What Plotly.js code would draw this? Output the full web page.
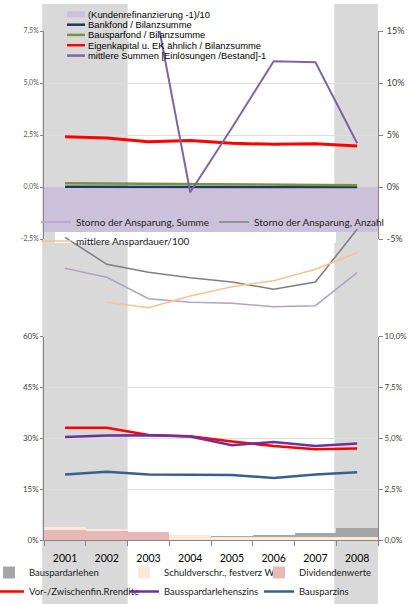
<!DOCTYPE html>
<html><head><meta charset="utf-8">
<script src="https://cdn.plot.ly/plotly-3.0.1.min.js"></script>
<style>html,body{margin:0;padding:0;background:#fff}#chart{width:412px;height:604px}</style>
</head><body><div id="chart"></div>
<script>
// ---------- data ----------
const years = ['2001','2002','2003','2004','2005','2006','2007','2008'];
// top panel, left axis (%)
const kundenRefi   = [-2.16,-2.16,-2.16,-2.16,-2.16,-2.16,-2.16,-2.16];
const bankfond     = [0.01,0.01,0.01,0.01,0.00,0.00,0.00,0.00];
const bausparfond  = [0.18,0.17,0.15,0.14,0.12,0.11,0.10,0.09];
const eigenkapital = [2.42,2.36,2.18,2.23,2.10,2.05,2.08,1.97];
// top panel, right axis (%)
const mittlereSummen = [null,null,20.6,-0.5,5.7,12.1,12.0,4.2];
// middle block (no visible axis)
const stornoSumme  = [7.17,6.27,4.13,3.77,3.67,3.33,3.43,6.73];
const stornoAnzahl = [10.27,7.57,6.77,6.23,5.80,5.07,5.80,11.07];
const anspardauer  = [null,3.77,3.23,4.40,5.33,5.93,7.07,8.73];
// bottom panel, stacked bars, left axis (%)
const dividendenwerte = [2.94,2.65,2.35,0,0,0,0,0];
const schuldverschr   = [0.98,0.68,0,1.57,0.98,0.95,0.92,0.88];
const bauspardarlehen = [0,0,0,0,0.30,0.60,1.10,2.65];
// bottom panel, lines, right axis (%)
const vorZwischen = [5.52,5.52,5.16,5.10,4.84,4.62,4.46,4.50];
const bausspardarlehenszins = [5.06,5.13,5.15,5.08,4.66,4.82,4.62,4.74];
const bausparzins = [3.22,3.35,3.22,3.19,3.19,3.05,3.22,3.33];
// tick labels
const topLeftTicks = [-2.5,0,2.5,5,7.5];
const topLeftLabels = ['-2,5%','0,0%','2,5%','5,0%','7,5%'];
const topRightTicks = [-5,0,5,10,15];
const topRightLabels = ['-5%','0%','5%','10%','15%'];
const botLeftTicks = [0,15,30,45,60];
const botLeftLabels = ['0%','15%','30%','45%','60%'];
const botRightTicks = [0,2.5,5,7.5,10];
const botRightLabels = ['0,0%','2,5%','5,0%','7,5%','10,0%'];
// highlighted periods
const shadedPeriods = [['2001','2002'],['2008','2008']];
// top legend names
const topNames = ['(Kundenrefinanzierung -1)/10','Bankfond / Bilanzsumme','Bausparfond / Bilanzsumme',
  'Eigenkapital u. EK ähnlich / Bilanzsumme','mittlere Summen [Einlösungen /Bestand]-1'];

// ---------- layout helpers ----------
const W = 412, H = 604;
const px = v => v / W;
const py = v => 1 - v / H;
const xDom = [px(44.2), px(378)];
const catX = (i) => xDom[0] + (i + 0.5) / years.length * (xDom[1] - xDom[0]);

const C = {
  refi:'#ccc1da', bank:'#1f3864', bauspf:'#77933c', ek:'#ff0000', mitt:'#8064a2',
  sSumme:'#b3a2c7', sAnz:'#7f7f7f', dauer:'#fac090',
  bdl:'#a6a6a6', sv:'#fde9d9', div:'#e6b9b8',
  vz:'#ff0000', bdz:'#7030a0', bz:'#376092', band:'#d9d9d9', axis:'#868686', grid:'#dedede'
};
const F = 'Lato, "Liberation Sans", sans-serif';

const traces = [
  {type:'bar', x:years, y:kundenRefi, name:topNames[0], xaxis:'x', yaxis:'y', marker:{color:C.refi}, showlegend:false},
  {type:'scatter', mode:'lines', x:years, y:bankfond, name:topNames[1], xaxis:'x', yaxis:'y', line:{color:C.bank, width:2.5}, showlegend:false},
  {type:'scatter', mode:'lines', x:years, y:bausparfond, name:topNames[2], xaxis:'x', yaxis:'y', line:{color:C.bauspf, width:2.5}, showlegend:false},
  {type:'scatter', mode:'lines', x:years, y:eigenkapital, name:topNames[3], xaxis:'x', yaxis:'y', line:{color:C.ek, width:3}, showlegend:false},
  {type:'scatter', mode:'lines', x:years, y:mittlereSummen, name:topNames[4], xaxis:'x', yaxis:'y2', line:{color:C.mitt, width:2}, showlegend:false},

  {type:'scatter', mode:'lines', x:years, y:stornoSumme, name:'Storno der Ansparung, Summe', xaxis:'x', yaxis:'y3', line:{color:C.sSumme, width:1.5}, legend:'legend2'},
  {type:'scatter', mode:'lines', x:years, y:stornoAnzahl, name:'Storno der Ansparung, Anzahl', xaxis:'x', yaxis:'y3', line:{color:C.sAnz, width:1.5}, legend:'legend2'},
  {type:'scatter', mode:'lines', x:years, y:anspardauer, name:'mittlere Anspardauer/100', xaxis:'x', yaxis:'y3', line:{color:C.dauer, width:1.5}, legend:'legend2'},

  {type:'bar', x:years, y:dividendenwerte, name:'Dividendenwerte', xaxis:'x2', yaxis:'y4', marker:{color:C.div}, legend:'legend3', legendrank:3},
  {type:'bar', x:years, y:schuldverschr, name:'Schuldverschr., festverz WP', xaxis:'x2', yaxis:'y4', marker:{color:C.sv}, legend:'legend3', legendrank:2},
  {type:'bar', x:years, y:bauspardarlehen, name:'Bauspardarlehen', xaxis:'x2', yaxis:'y4', marker:{color:C.bdl}, legend:'legend3', legendrank:1},
  {type:'scatter', mode:'lines', x:years, y:vorZwischen, name:'Vor-/Zwischenfin.Rrendite', xaxis:'x2', yaxis:'y5', line:{color:C.vz, width:2.5}, legend:'legend3', legendrank:4},
  {type:'scatter', mode:'lines', x:years, y:bausspardarlehenszins, name:'Bausspardarlehenszins', xaxis:'x2', yaxis:'y5', line:{color:C.bdz, width:2.5}, legend:'legend3', legendrank:5},
  {type:'scatter', mode:'lines', x:years, y:bausparzins, name:'Bausparzins', xaxis:'x2', yaxis:'y5', line:{color:C.bz, width:2.5}, legend:'legend3', legendrank:6}
];

// ---------- shapes ----------
const shapes = [];
shadedPeriods.forEach(p => {
  const a = years.indexOf(p[0]), b = years.indexOf(p[1]);
  const step = (xDom[1]-xDom[0]) / years.length;
  shapes.push({type:'rect', xref:'paper', yref:'paper', layer:'below',
    x0: catX(a) - step/2 - px(2), x1: catX(b) + step/2, y0: 0, y1: py(4),
    fillcolor:C.band, line:{width:0}});
});
shapes.push({type:'rect', xref:'paper', yref:'paper', layer:'below',
  x0:px(55), x1:px(336), y0:py(243), y1:py(232), fillcolor:'#ffffff', line:{width:0}});

// top legend (manual, compact spacing)
const topLegendY = [14.3, 24.7, 34.9, 45.2, 55.6];
const topColors = [C.refi, C.bank, C.bauspf, C.ek, C.mitt];
const annotations = [];
topNames.forEach((n, i) => {
  annotations.push({xref:'paper', yref:'paper', x:px(85.5), y:py(topLegendY[i]), xanchor:'left', yanchor:'middle',
    text:n, showarrow:false, font:{family:'"Liberation Sans", Arial, sans-serif', size:9.4, color:'#000'}});
  if (i === 0) {
    shapes.push({type:'rect', xref:'paper', yref:'paper', layer:'above', x0:px(67), x1:px(85),
      y0:py(topLegendY[i]+3), y1:py(topLegendY[i]-3), fillcolor:topColors[i], line:{width:0}});
  } else {
    shapes.push({type:'line', xref:'paper', yref:'paper', layer:'above', x0:px(67), x1:px(85),
      y0:py(topLegendY[i]), y1:py(topLegendY[i]), line:{color:topColors[i], width:2.5}});
  }
});

const axisCommon = {showline:true, linecolor:C.axis, linewidth:1, ticks:'outside', tickcolor:C.axis, fixedrange:true};

const layout = {
  width:W, height:H, margin:{l:0, r:0, t:0, b:0, autoexpand:false},
  paper_bgcolor:'#ffffff', plot_bgcolor:'rgba(0,0,0,0)',
  barmode:'stack', bargap:0,
  font:{family:F, color:'#000'},
  xaxis:{domain:xDom, anchor:'y', type:'category', range:[-0.5,7.5], showticklabels:false, ticks:'',
    showline:false, showgrid:false, zeroline:false, fixedrange:true},
  xaxis2:Object.assign({}, axisCommon, {domain:xDom, anchor:'y4', type:'category', range:[-0.5,7.5],
    tickson:'boundaries', ticklen:5, ticklabelstandoff:8, showgrid:false, zeroline:false,
    tickfont:{family:F, size:10.5, color:'#000'}}),
  yaxis:Object.assign({}, axisCommon, {domain:[py(239), py(31)], anchor:'x', range:[-2.5,7.5],
    tickvals:topLeftTicks, ticktext:topLeftLabels, ticklen:3, showgrid:true, gridcolor:C.grid,
    zeroline:true, zerolinecolor:C.axis, zerolinewidth:1,
    tickfont:{family:F, size:7, color:'#595959'}}),
  yaxis2:Object.assign({}, axisCommon, {overlaying:'y', side:'right', anchor:'x', range:[-5,15],
    tickvals:topRightTicks, ticktext:topRightLabels, ticklen:4, ticklabelstandoff:2, showgrid:false, zeroline:false,
    tickfont:{family:F, size:9, color:'#404040'}}),
  yaxis3:{domain:[py(340), py(220)], anchor:'x', range:[0,12], visible:false, fixedrange:true},
  yaxis4:Object.assign({}, axisCommon, {domain:[py(540), py(336.5)], anchor:'x2', range:[0,60],
    tickvals:botLeftTicks, ticktext:botLeftLabels, ticklen:3, showgrid:true, gridcolor:C.grid, zeroline:false,
    tickfont:{family:F, size:8, color:'#404040'}}),
  yaxis5:Object.assign({}, axisCommon, {overlaying:'y4', side:'right', anchor:'x2', range:[0,10],
    tickvals:botRightTicks, ticktext:botRightLabels, ticklen:4, showgrid:false, zeroline:false,
    tickfont:{family:F, size:8, color:'#404040'}}),
  legend2:{x:px(36), y:py(207.5), xanchor:'left', yanchor:'top', orientation:'h', entrywidth:133,
    entrywidthmode:'pixels', bgcolor:'rgba(0,0,0,0)', itemwidth:30, font:{family:F, size:10, color:'#222'}},
  legend3:{x:px(394), y:py(558), xanchor:'right', yanchor:'top', orientation:'h', entrywidth:90,
    entrywidthmode:'pixels', bgcolor:'rgba(0,0,0,0)', itemwidth:30, traceorder:'normal',
    font:{family:F, size:9.5, color:'#222'}},
  shapes:shapes, annotations:annotations
};

Plotly.newPlot('chart', traces, layout, {displayModeBar:false, staticPlot:true});
</script>
</body></html>
